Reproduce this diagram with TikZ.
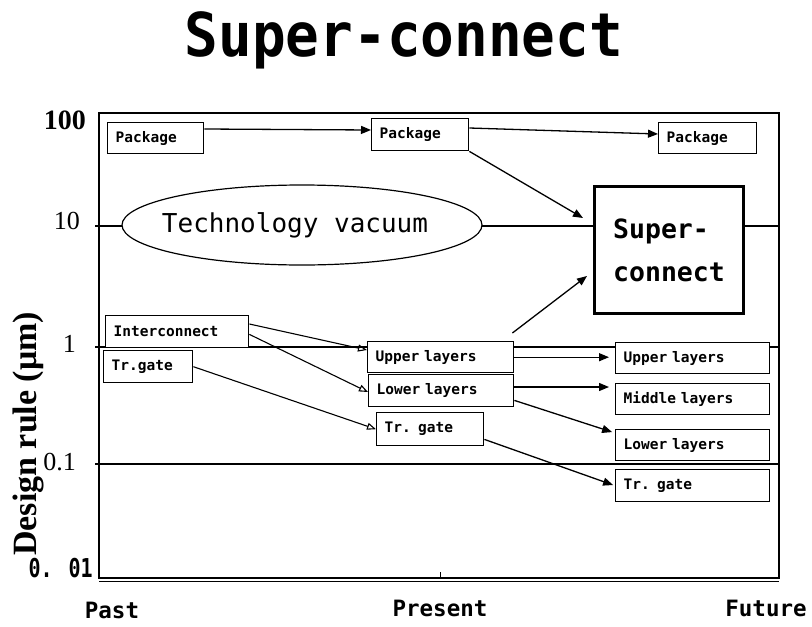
\documentclass[tikz,border=0pt]{standalone}
\usepackage{fontspec}
\usetikzlibrary{arrows.meta,shapes.geometric,calc}
\newfontfamily\gothic{DejaVu Sans Mono}
\newfontfamily\romanf{Liberation Serif}
\newcommand\monospacing{\fontdimen2\font=0.602em\fontdimen3\font=0pt\fontdimen4\font=0pt\relax}
\begin{document}
\begin{tikzpicture}[x=1pt,y=-1pt,
 bx/.style={draw,line width=1.4pt,fill=white,anchor=north west,inner xsep=8pt,inner ysep=0pt,align=left,font=\gothic\bfseries\fontsize{14.5}{17}\selectfont\monospacing},
 gridln/.style={line width=1.3pt},
 conn/.style={line width=1.3pt,-{Triangle[length=10pt,width=8pt]}},
 oconn/.style={line width=1.1pt,-{Triangle[open,length=9pt,width=7pt]}},
 axnum/.style={anchor=east,inner sep=0pt,font=\romanf\fontsize{26}{30}\selectfont},
 tlabel/.style={font=\gothic\bfseries\fontsize{22.5}{26}\selectfont,inner sep=0pt}
]
\useasboundingbox (0,0) rectangle (812,627);

% title
\node[font=\gothic\bfseries\fontsize{56}{60}\selectfont,inner sep=0pt] (title) at (404,40) {\scalebox{1}[1.08]{Super-connect}};

% frame and grid
\draw[line width=1.4pt] (99,113) rectangle (779,578);
\draw[line width=1pt] (99,581.5) -- (779,581.5);
\draw[line width=1pt] (440,578) -- (440,572);
\draw[gridln] (95,226) -- (779,226);
\draw[gridln] (95,347) -- (779,347);
\draw[gridln] (95,464) -- (779,464);

% axis labels
\node[axnum,font=\romanf\bfseries\fontsize{28}{30}\selectfont] (l100) at (86,120) {100};
\node[axnum] (l10) at (80,221) {10};
\node[axnum] (l1) at (76,344) {1};
\node[axnum] (l01) at (76,462) {0.1};
\node[anchor=east,inner sep=0pt,font=\gothic\bfseries\fontsize{20}{24}\selectfont\monospacing] (l001) at (93,568) {\scalebox{1}[1.3]{0. 01}};
\node[rotate=90,anchor=west,inner sep=0pt,font=\romanf\bfseries\fontsize{34}{36}\selectfont] (ylab) at (28,556) {Design rule (μm)};
\node[tlabel] (past) at (112,610) {Past};
\node[tlabel] (present) at (440,608) {Present};
\node[tlabel] (future) at (766,608) {Future};

% ellipse and super-connect box
\node[ellipse,draw,line width=1.2pt,fill=white,minimum width=360pt,minimum height=80pt,inner sep=0pt,font=\gothic\fontsize{26}{30}\selectfont\monospacing] (tv) at (302,225) {\hspace*{-14pt}Technology vacuum};
\node[draw,line width=3pt,fill=white,anchor=north west,minimum width=149pt,minimum height=127pt,inner sep=0pt,align=left,font=\gothic\bfseries\fontsize{26.5}{43}\selectfont] (sc) at (593,185) {Super-\\connect};

% boxes
\node[bx,text width=80pt,minimum height=31pt] (pk1) at (107,122) {Package};
\node[bx,text width=81pt,minimum height=32pt] (pk2) at (371,118) {Package};
\node[bx,text width=82pt,minimum height=31pt] (pk3) at (658,122) {Package};
\node[bx,text width=127pt,minimum height=32pt] (ic) at (105,315) {Interconnect};
\node[bx,text width=73pt,minimum height=32pt] (tg1) at (103,350) {Tr.gate};
\node[bx,text width=130pt,minimum height=31pt] (ul2) at (367,341) {Upper layers};
\node[bx,text width=129pt,minimum height=32pt] (ll2) at (368,374) {Lower layers};
\node[bx,text width=91pt,minimum height=33pt] (tg2) at (376,412) {Tr. gate};
\node[bx,text width=138pt,minimum height=31pt] (ul3) at (615,342) {Upper layers};
\node[bx,text width=138pt,minimum height=31pt] (ml3) at (615,383) {Middle layers};
\node[bx,text width=138pt,minimum height=31pt] (ll3) at (615,429) {Lower layers};
\node[bx,text width=138pt,minimum height=32pt] (tg3) at (615,469) {Tr. gate};

% connectors
\draw[conn] ([yshift=-7pt]pk1.north east) -- ([yshift=-12pt]pk2.north west);
\draw[conn] ([yshift=-10pt]pk2.north east) -- ([yshift=-12pt]pk3.north west);
\draw[conn] (pk2.south east) -- ([xshift=-10pt,yshift=-33pt]sc.north west);
\draw[conn] ([xshift=-2pt,yshift=8pt]ul2.north east) -- ([xshift=-6pt,yshift=39pt]sc.south west);
\draw[oconn] ([yshift=-9pt]ic.north east) -- ([yshift=-9pt]ul2.north west);
\draw[oconn] ([yshift=14pt]ic.south east) -- ([yshift=-18pt]ll2.north west);
\draw[oconn] (tg1.east) -- (tg2.west);
\draw[conn,shorten >=6pt] (ul2.east) -- (ul2.east -| ul3.west);
\coordinate (a) at ([yshift=-13pt]ll2.north east);
\draw[conn,shorten >=6pt] (a) -- (a -| ml3.west);
\draw[conn,shorten >=3pt] ([yshift=7pt]ll2.south east) -- ([yshift=-4pt]ll3.north west);
\draw[conn,shorten >=2pt] ([yshift=7pt]tg2.south east) -- (tg3.west);
\end{tikzpicture}
\end{document}
